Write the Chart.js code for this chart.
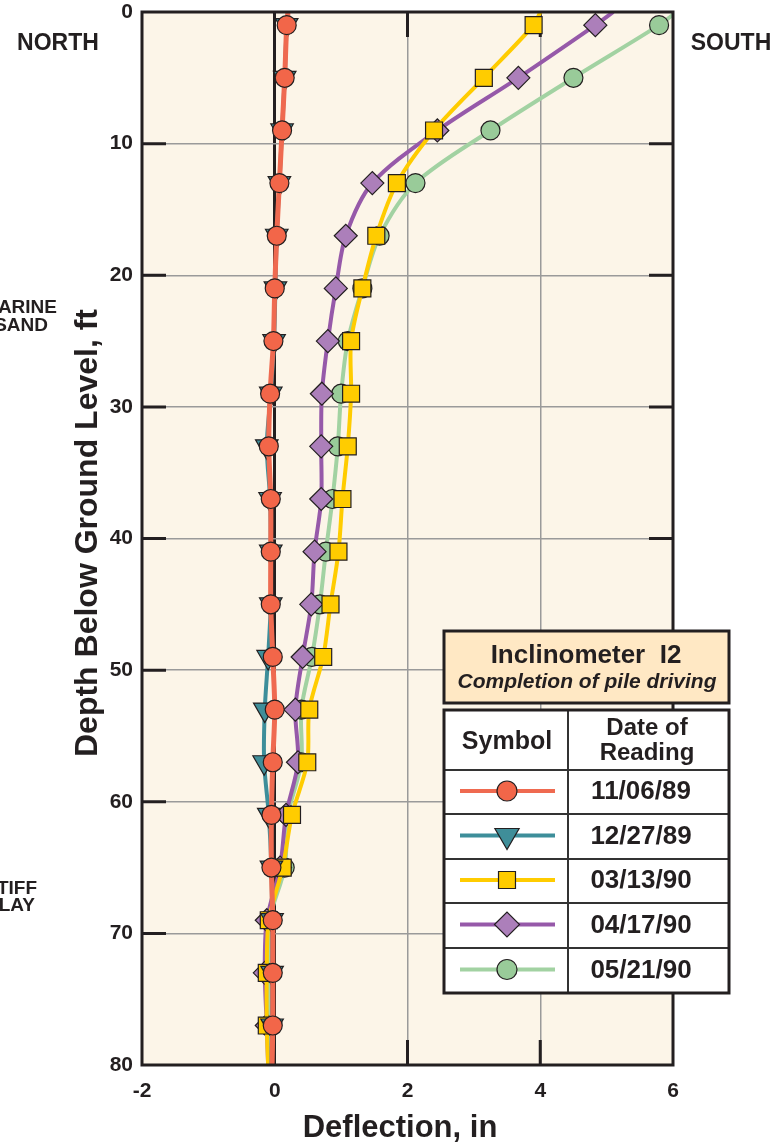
<!DOCTYPE html>
<html>
<head>
<meta charset="utf-8">
<script src="https://cdn.jsdelivr.net/npm/chart.js@4/dist/chart.umd.min.js"></script>
<style>
  html, body { margin: 0; padding: 0; background: #fff; }
  #chart { display: block; }
</style>
</head>
<body>
<canvas id="chart" width="776" height="1148"></canvas>
<script>
// depth (ft) of each reading; 0 and 80 are line ends without a marker
const depths = [0, 1, 5, 9, 13, 17, 21, 25, 29, 33, 37, 41, 45, 49, 53, 57, 61, 65, 69, 73, 77, 80];

// deflection (in) for each reading date
const defl110689 = [0.2, 0.18, 0.15, 0.11, 0.07, 0.03, 0.0, -0.02, -0.07, -0.09, -0.06, -0.06, -0.06, -0.03, 0.0, -0.03, -0.05, -0.05, -0.03, -0.03, -0.03, -0.04];
const defl122789 = [0.2, 0.18, 0.15, 0.11, 0.07, 0.03, 0.01, -0.01, -0.06, -0.12, -0.07, -0.06, -0.06, -0.1, -0.15, -0.16, -0.09, -0.05, -0.04, -0.04, -0.04, -0.05];
const defl031390 = [4.0, 3.9, 3.15, 2.4, 1.84, 1.53, 1.32, 1.15, 1.15, 1.1, 1.02, 0.96, 0.84, 0.73, 0.52, 0.49, 0.26, 0.12, -0.09, -0.12, -0.12, -0.1];
const defl041790 = [5.1, 4.83, 3.67, 2.45, 1.47, 1.07, 0.92, 0.8, 0.71, 0.7, 0.7, 0.6, 0.55, 0.42, 0.31, 0.35, 0.17, 0.08, -0.12, -0.15, -0.12, -0.1];
const defl052190 = [6.05, 5.79, 4.5, 3.25, 2.12, 1.58, 1.32, 1.1, 1.0, 0.95, 0.87, 0.77, 0.68, 0.56, 0.4, 0.4, 0.2, 0.15, -0.08, -0.1, -0.1, -0.08];

const readingDates = ['11/06/89', '12/27/89', '03/13/90', '04/17/90', '05/21/90'];
const xTicks = [-2, 0, 2, 4, 6];
const yTicks = [0, 10, 20, 30, 40, 50, 60, 70, 80];

const FONT = '"Liberation Sans", Arial, Helvetica, sans-serif';
const INK = '#231f20';

function toPoints(vals) {
    return depths.map((d, i) => ({x: vals[i], y: d}));
}

function radii(r) {
    return depths.map((d, i) => (i === 0 || i === depths.length - 1) ? 0 : r);
}

const styles = [
    {line: '#ef6a50', fill: '#f26649', style: 'circle', r: 9.5, rot: 0, w: 5},
    {line: '#3d8e9a', fill: '#3f8e99', style: 'triangle', r: 13, rot: 180, w: 4},
    {line: '#ffcc00', fill: '#ffcc00', style: 'rect', r: 12, rot: 0, w: 4},
    {line: '#9659a9', fill: '#ac7fba', style: 'rectRot', r: 11.5, rot: 0, w: 4},
    {line: '#a2d2a2', fill: '#99cb99', style: 'circle', r: 9.5, rot: 0, w: 4}
];
const series = [defl110689, defl122789, defl031390, defl041790, defl052190];

const datasets = series.map((vals, i) => ({
    label: readingDates[i],
    data: toPoints(vals),
    borderColor: styles[i].line,
    borderWidth: styles[i].w,
    backgroundColor: styles[i].fill,
    pointBackgroundColor: styles[i].fill,
    pointBorderColor: INK,
    pointBorderWidth: 1.2,
    pointStyle: styles[i].style,
    pointRotation: styles[i].rot,
    pointRadius: radii(styles[i].r),
    tension: 0.3,
    showLine: true
}));

// plot background, inner ticks, frame, legend table and loose labels
const decor = {
    id: 'decor',
    beforeDraw(chart) {
        const {ctx, chartArea: a} = chart;
        ctx.save();
        ctx.fillStyle = '#fcf5e8';
        ctx.fillRect(a.left, a.top, a.right - a.left, a.bottom - a.top);
        ctx.restore();
    },
    beforeDatasetsDraw(chart) {
        const {ctx, chartArea: a, scales} = chart;
        ctx.save();
        ctx.strokeStyle = INK;
        ctx.lineWidth = 3;
        ctx.beginPath();
        [2, 4].forEach(v => {
            const px = scales.x.getPixelForValue(v);
            ctx.moveTo(px, a.top); ctx.lineTo(px, a.top + 25);
            ctx.moveTo(px, a.bottom); ctx.lineTo(px, a.bottom - 25);
        });
        [10, 20, 30, 40, 50, 60, 70].forEach(v => {
            const py = scales.y.getPixelForValue(v);
            ctx.moveTo(a.left, py); ctx.lineTo(a.left + 24, py);
            ctx.moveTo(a.right, py); ctx.lineTo(a.right - 24, py);
        });
        ctx.stroke();
        ctx.restore();
    },
    afterDatasetsDraw(chart) {
        const {ctx, chartArea: a} = chart;
        ctx.save();
        ctx.strokeStyle = INK;
        ctx.lineWidth = 3;
        ctx.strokeRect(a.left, a.top, a.right - a.left, a.bottom - a.top);
        ctx.restore();
    },
    afterDraw(chart) {
        const {ctx} = chart;
        ctx.save();
        ctx.fillStyle = INK;
        ctx.textBaseline = 'middle';

        // axis titles
        ctx.font = 'bold 31px ' + FONT;
        ctx.textAlign = 'center';
        ctx.fillText('Deflection, in', 400, 1128);
        ctx.save();
        ctx.translate(88, 533);
        ctx.rotate(-Math.PI / 2);
        ctx.font = 'bold 32px ' + FONT;
        ctx.fillText('Depth Below Ground Level, ft', 0, 0);
        ctx.restore();

        // side labels
        ctx.font = 'bold 23px ' + FONT;
        ctx.fillText('NORTH', 58, 44);
        ctx.fillText('SOUTH', 731, 44);
        ctx.font = 'bold 19px ' + FONT;
        ctx.textAlign = 'right';
        ctx.fillText('MARINE', 57, 308);
        ctx.fillText('SAND', 48, 326);
        ctx.fillText('STIFF', 37, 889);
        ctx.fillText('CLAY', 35, 906);

        // legend title box
        const L = 444, R = 729, C = 568;
        ctx.fillStyle = '#ffe8c4';
        ctx.fillRect(L, 631, R - L, 72);
        ctx.strokeStyle = INK;
        ctx.lineWidth = 3;
        ctx.strokeRect(L, 631, R - L, 72);
        ctx.fillStyle = INK;
        ctx.textAlign = 'center';
        ctx.font = 'bold 26px ' + FONT;
        ctx.fillText('Inclinometer  I2', 586, 656);
        ctx.font = 'italic bold 21px ' + FONT;
        ctx.fillText('Completion of pile driving', 587, 682);

        // legend table
        const rows = [770, 814, 859, 903, 948, 993];
        ctx.fillStyle = '#ffffff';
        ctx.fillRect(L, 710, R - L, 993 - 710);
        ctx.strokeStyle = '#333';
        ctx.lineWidth = 2;
        ctx.beginPath();
        ctx.moveTo(C, 710); ctx.lineTo(C, 993);
        rows.slice(0, -1).forEach(y => { ctx.moveTo(L, y); ctx.lineTo(R, y); });
        ctx.stroke();
        ctx.strokeStyle = INK;
        ctx.lineWidth = 3;
        ctx.strokeRect(L, 710, R - L, 993 - 710);

        ctx.fillStyle = INK;
        ctx.font = 'bold 25px ' + FONT;
        ctx.fillText('Symbol', 507, 742);
        ctx.font = 'bold 24px ' + FONT;
        ctx.fillText('Date of', 647, 728);
        ctx.fillText('Reading', 647, 753);

        const legR = [10, 14, 12, 12.5, 10];
        readingDates.forEach((label, i) => {
            const cy = (rows[i] + rows[i + 1]) / 2 - 1;
            const st = styles[i];
            ctx.strokeStyle = st.line;
            ctx.lineWidth = 4;
            ctx.beginPath();
            ctx.moveTo(460, cy); ctx.lineTo(555, cy);
            ctx.stroke();
            ctx.fillStyle = st.fill;
            ctx.strokeStyle = INK;
            ctx.lineWidth = 1.2;
            Chart.helpers.drawPoint(ctx, {pointStyle: st.style, radius: legR[i], rotation: st.rot, borderWidth: 1.2}, 507, cy);
            ctx.fillStyle = INK;
            ctx.font = 'bold 26px ' + FONT;
            ctx.fillText(label, 641, cy + 1);
        });
        ctx.restore();
    }
};

const gridColor = (ends, zero) => c => {
    const v = c.tick.value;
    if (ends.includes(v)) return 'rgba(0,0,0,0)';
    if (zero && v === 0) return INK;
    return '#9a9a9a';
};

new Chart(document.getElementById('chart'), {
    type: 'scatter',
    data: {datasets: datasets},
    options: {
        responsive: false,
        animation: false,
        devicePixelRatio: 1,
        layout: {padding: {left: 0, top: 12, right: 103, bottom: 0}},
        plugins: {legend: {display: false}, tooltip: {enabled: false}},
        scales: {
            x: {
                type: 'linear',
                min: -2, max: 6,
                afterFit: s => { s.height = 83; s.paddingLeft = 0; s.paddingRight = 0; },
                afterBuildTicks: s => { s.ticks = xTicks.map(v => ({value: v})); },
                grid: {
                    color: gridColor([-2, 6], true),
                    lineWidth: c => c.tick.value === 0 ? 3 : 1.5,
                    drawTicks: false
                },
                border: {display: false},
                ticks: {
                    padding: 14,
                    color: INK,
                    font: {family: FONT, size: 21, weight: 'bold'}
                }
            },
            y: {
                type: 'linear',
                reverse: true,
                min: 0, max: 80,
                afterFit: s => { s.width = 142; s.paddingTop = 0; s.paddingBottom = 0; },
                afterBuildTicks: s => { s.ticks = yTicks.map(v => ({value: v})); },
                grid: {
                    color: gridColor([0, 80], false),
                    lineWidth: 1.5,
                    drawTicks: false
                },
                border: {display: false},
                ticks: {
                    padding: 9,
                    color: INK,
                    font: {family: FONT, size: 21, weight: 'bold'}
                }
            }
        }
    },
    plugins: [decor]
});
</script>
</body>
</html>
